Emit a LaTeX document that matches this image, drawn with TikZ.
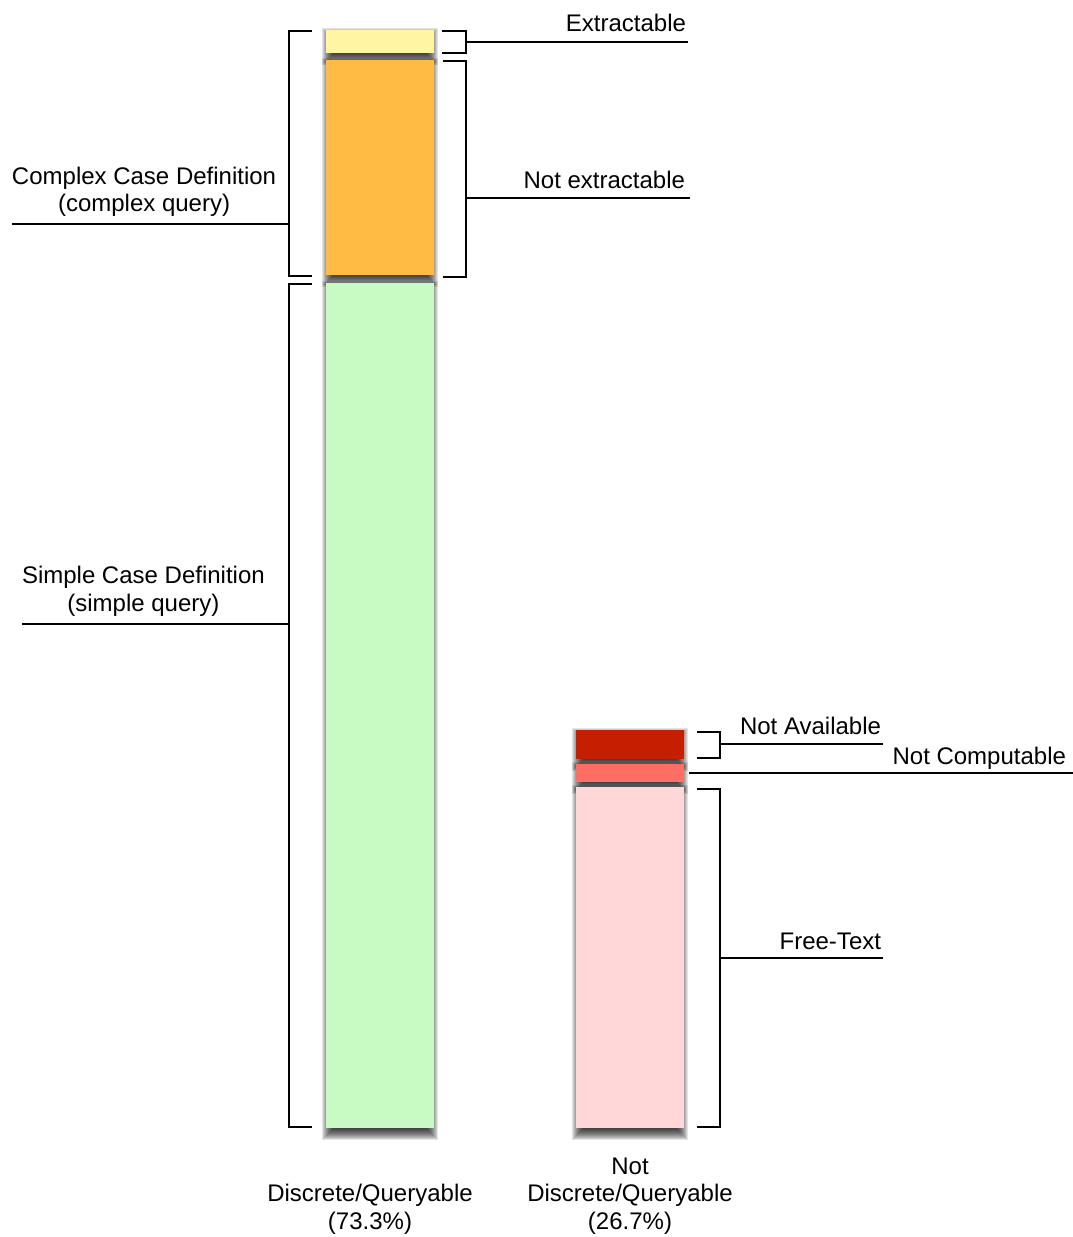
\documentclass[tikz,border=0pt]{standalone}
\usepackage{fontspec}
\setmainfont{Liberation Sans}
\usetikzlibrary{backgrounds}

\definecolor{cYellow}{HTML}{FFF5A3}
\definecolor{cOrange}{HTML}{FFBB44}
\definecolor{cGreen}{HTML}{C8FAC4}
\definecolor{cDarkRed}{HTML}{C41F00}
\definecolor{cSalmon}{HTML}{FF6E62}
\definecolor{cPink}{HTML}{FFD7D9}

\tikzset{
  bar/.style={draw=none, inner sep=0pt, outer sep=0pt, minimum width=108pt},
  shadowlayer/.style={fill=black, fill opacity=0.105},
  brace/.style={line width=1.8pt, line join=miter},
  leader/.style={line width=1.6pt},
  lbl/.style={inner sep=0pt, outer sep=0pt, font=\fontsize{24}{27.5}\selectfont},
}

\begin{document}
\begin{tikzpicture}[x=1pt, y=-1pt]
  \useasboundingbox (0,0) rectangle (1073,1237);

  % discrete / queryable column
  \node[bar, fill=cYellow, minimum height=23pt]  (ext)    at (380,41.5)  {};
  \node[bar, fill=cOrange, minimum height=215pt] (notext) at (380,167.5) {};
  \node[bar, fill=cGreen,  minimum height=845pt] (simple) at (380,705.5) {};

  % not discrete / queryable column
  \node[bar, fill=cDarkRed, minimum height=29pt]  (notavail) at (630,744.5) {};
  \node[bar, fill=cSalmon,  minimum height=18pt]  (notcomp)  at (630,773)   {};
  \node[bar, fill=cPink,    minimum height=341pt] (free)     at (630,957.5) {};

  % soft drop shadows: stacked translucent rectangles, offset downwards
  \begin{pgfonlayer}{background}
    \foreach \n in {ext,notext,simple,notavail,notcomp,free}
      \foreach \k in {-4,...,7}
        \fill[shadowlayer] ([shift={(3-\k,5-\k)}]\n.north west)
                 rectangle ([shift={(\k-3,5+\k)}]\n.south east);
  \end{pgfonlayer}

  % labels
  \node[lbl, anchor=base east] (lExt)     at (686,31)    {Extractable};
  \node[lbl, anchor=base east] (lNotExt)  at (685,188)   {Not extractable};
  \node[lbl, anchor=base east] (lAvail)   at (881,734.5) {Not Available};
  \node[lbl, anchor=base east] (lComp)    at (1066,764)  {Not Computable};
  \node[lbl, anchor=base east] (lFree)    at (881,949.5) {Free-Text};
  \node[lbl, anchor=west, align=center] (lComplex) at (12,192)
       {Complex Case Definition\\(complex query)};
  \node[lbl, anchor=west, align=center] (lSimple) at (22,591.5)
       {Simple Case Definition\\(simple query)};
  \node[lbl, align=center] (lDisc)    at (370,1209.5) {Discrete/Queryable\\(73.3\%)};
  \node[lbl, align=center] (lNotDisc) at (630,1196)   {Not\\Discrete/Queryable\\(26.7\%)};

  % bracket end points and leader ends
  \coordinate (bExtR)    at (466,42);
  \coordinate (bNotExtR) at (466,198);
  \coordinate (bCplxL)   at (289,224);
  \coordinate (bSimpL)   at (289,624);
  \coordinate (bAvailR)  at (720,744);
  \coordinate (bFreeR)   at (720,958);
  \coordinate (eExt)     at (688,42);
  \coordinate (eNotExt)  at (690,198);
  \coordinate (eCplx)    at (12,224);
  \coordinate (eSimp)    at (22,624);
  \coordinate (eAvail)   at (883,744);
  \coordinate (eFree)    at (883,958);
  \coordinate (cStart)   at (689,773);
  \coordinate (cEnd)     at (1073,773);

  % brackets
  \draw[brace] (312,31) -- (289,31) -- (289,276) -- (312,276);
  \draw[brace] (312,284) -- (289,284) -- (289,1127) -- (312,1127);
  \draw[brace] (442,31) -- (466,31) -- (466,53) -- (442,53);
  \draw[brace] (443,61) -- (466,61) -- (466,277) -- (443,277);
  \draw[brace] (697,732) -- (720,732) -- (720,758) -- (697,758);
  \draw[brace] (697,789) -- (720,789) -- (720,1127) -- (697,1127);

  % leaders
  \draw[leader] (bExtR) -- (eExt);
  \draw[leader] (bNotExtR) -- (eNotExt);
  \draw[leader] (bCplxL) -- (eCplx);
  \draw[leader] (bSimpL) -- (eSimp);
  \draw[leader] (bAvailR) -- (eAvail);
  \draw[leader] (bFreeR) -- (eFree);
  \draw[leader] (cStart) -- (cEnd);
\end{tikzpicture}
\end{document}
